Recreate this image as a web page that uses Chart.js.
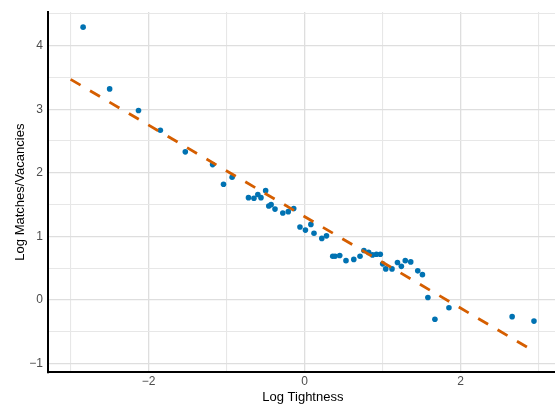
<!DOCTYPE html>
<html>
<head>
<meta charset="utf-8">
<script src="https://cdn.jsdelivr.net/npm/chart.js@4.4.1/dist/chart.umd.min.js"></script>
<style>
    html, body { margin: 0; padding: 0; background: #fff; }
    #wrap { width: 555px; height: 405px; overflow: hidden; }
</style>
</head>
<body>
<div id="wrap"><canvas id="chart" width="562" height="405"></canvas></div>
<script>
// Log tightness vs log matches/vacancies
const tightness = [-2.84, -2.50, -2.13, -1.85, -1.53, -1.18, -1.04, -0.93, -0.72, -0.65,
    -0.60, -0.56, -0.50, -0.46, -0.43, -0.38, -0.28, -0.21, -0.14, -0.06,
    0.01, 0.08, 0.12, 0.22, 0.28, 0.36, 0.39, 0.45, 0.53, 0.63,
    0.71, 0.76, 0.82, 0.87, 0.92, 0.97, 1.00, 1.04, 1.12, 1.19,
    1.24, 1.29, 1.36, 1.45, 1.51, 1.58, 1.67, 1.85, 2.66, 2.94];
const matches = [4.29, 3.32, 2.98, 2.67, 2.33, 2.13, 1.82, 1.93, 1.61, 1.60,
    1.66, 1.61, 1.72, 1.48, 1.50, 1.43, 1.37, 1.39, 1.44, 1.15,
    1.10, 1.19, 1.05, 0.97, 1.01, 0.69, 0.69, 0.70, 0.62, 0.64,
    0.69, 0.78, 0.75, 0.71, 0.72, 0.72, 0.57, 0.49, 0.49, 0.59,
    0.53, 0.62, 0.60, 0.46, 0.40, 0.04, -0.30, -0.12, -0.26, -0.33];

// fitted line end points
const fitX = [-3, 2.95];
const fitY = [3.47, -0.81];

const xTicks = [-3, -2, -1, 0, 1, 2, 3];
const xLabels = ['', '\u22122', '', '0', '', '2', ''];
const yTicks = [-1, -0.5, 0, 0.5, 1, 1.5, 2, 2.5, 3, 3.5, 4, 4.5];
const yLabels = ['\u22121', '', '0', '', '1', '', '2', '', '3', '', '4', ''];

const font = '"Liberation Sans", Arial, sans-serif';

const points = tightness.map((x, i) => ({ x: x, y: matches[i] }));
const fitLine = fitX.map((x, i) => ({ x: x, y: fitY[i] }));

function gridColor(labels) {
    return ctx => (ctx.tick && labels[ctx.index] !== '') ? '#dedede' : '#e7e7e7';
}
function gridWidth(labels) {
    return ctx => (ctx.tick && labels[ctx.index] !== '') ? 1.3 : 1.1;
}

new Chart(document.getElementById('chart'), {
    type: 'scatter',
    data: {
        datasets: [{
            label: 'Fit',
            data: fitLine,
            showLine: true,
            borderColor: '#D55E00',
            borderWidth: 2.8,
            borderDash: [11.5, 11],
            pointRadius: 0,
            order: 0
        }, {
            label: 'Data',
            data: points,
            backgroundColor: '#0072B2',
            borderWidth: 0,
            pointRadius: 2.8,
            order: 1
        }]
    },
    options: {
        responsive: false,
        animation: false,
        devicePixelRatio: 1,
        layout: { padding: { left: 12.7, top: 11, right: 0.7, bottom: 0 } },
        plugins: {
            legend: { display: false },
            tooltip: { enabled: false }
        },
        scales: {
            x: {
                type: 'linear',
                min: -3.294,
                max: 3.248,
                afterBuildTicks: s => { s.ticks = xTicks.map(v => ({ value: v })); },
                afterFit: s => { s.height = 32.7; },
                grid: { color: gridColor(xLabels), lineWidth: gridWidth(xLabels), drawTicks: false },
                border: { color: '#000', width: 2 },
                ticks: {
                    padding: 2.5,
                    color: '#4d4d4d',
                    font: { family: font, size: 12 },
                    maxRotation: 0,
                    autoSkip: false,
                    callback: (v, i) => xLabels[i]
                },
                title: {
                    display: true,
                    text: 'Log Tightness',
                    color: '#000',
                    font: { family: font, size: 13 },
                    padding: { top: 0, bottom: 0 }
                }
            },
            y: {
                type: 'linear',
                min: -1.135,
                max: 4.53,
                afterBuildTicks: s => { s.ticks = yTicks.map(v => ({ value: v })); },
                afterFit: s => { s.width = 35; },
                grid: { color: gridColor(yLabels), lineWidth: gridWidth(yLabels), drawTicks: false },
                border: { color: '#000', width: 2 },
                ticks: {
                    padding: 4.7,
                    color: '#4d4d4d',
                    font: { family: font, size: 12 },
                    autoSkip: false,
                    callback: (v, i) => yLabels[i]
                },
                title: {
                    display: true,
                    text: 'Log Matches/Vacancies',
                    color: '#000',
                    font: { family: font, size: 13 },
                    padding: { top: 0, bottom: 0 }
                }
            }
        }
    }
});
</script>
</body>
</html>
